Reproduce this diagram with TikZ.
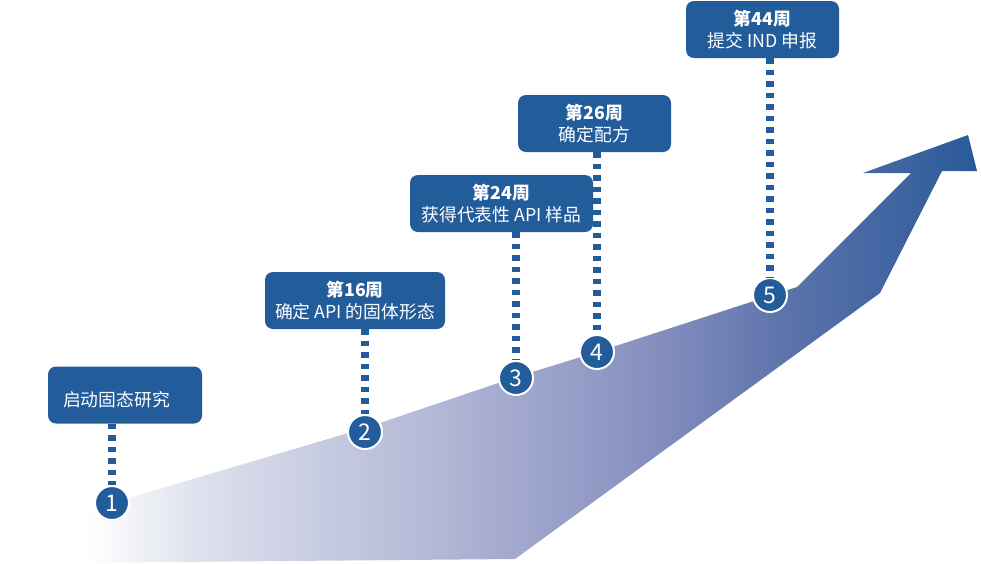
\documentclass[tikz,border=0pt]{standalone}
\usepackage{fontspec}
\setmainfont{Noto Sans CJK SC}
\usepackage{xcolor}

\definecolor{boxblue}{HTML}{225C9B}
\definecolor{fadeA}{HTML}{DCDFED}
\definecolor{fadeB}{HTML}{B1B6D5}
\definecolor{fadeC}{HTML}{8790C0}
\definecolor{fadeD}{HTML}{5A72AA}
\definecolor{fadeE}{HTML}{2A5A9A}
\pgfdeclarehorizontalshading{arrowfade}{100bp}{color(0bp)=(white); color(26.5bp)=(white);
	color(33bp)=(fadeA); color(46bp)=(fadeB); color(57bp)=(fadeC); color(65bp)=(fadeD);
	color(75bp)=(fadeE); color(100bp)=(fadeE)}

\tikzset{
	milestone/.style={fill=boxblue, rounded corners=8pt, text=white, align=center,
		minimum height=57pt, inner sep=0pt, font=\fontsize{17.8}{22}\selectfont},
	stepdot/.style={circle, fill=boxblue, draw=white, line width=2pt, minimum size=34pt,
		inner sep=0pt, text=white, font=\fontsize{23}{23}\selectfont},
	stem/.style={draw=boxblue, line width=7.5pt, dash pattern=on 5.5pt off 6pt}
}

\begin{document}
\begin{tikzpicture}[x=1pt, y=-1pt]
	\useasboundingbox (0,0) rectangle (981,563);
	% rising arrow
	\shade[shading=arrowfade]
		(60,519) -- (112,503) -- (365,428) -- (516,377) -- (597,352) -- (797,287)
		-- (911,173) -- (863,173) -- (968,135) -- (977,171) -- (942,171)
		-- (880,293) -- (515,559) -- (60,563) -- cycle;
	% milestone boxes
	\node[milestone, minimum width=154pt, align=left, text width=124pt, inner xsep=15pt] (box1) at (125,395)
		{\raisebox{-5pt}[\height][\depth]{启动固态研究}};
	\node[milestone, minimum width=180pt] (box2) at (355,300.5) {\textbf{第16周}\\确定 API 的固体形态};
	\node[milestone, minimum width=183pt] (box3) at (501.5,203.5) {\textbf{第24周}\\获得代表性 API 样品};
	\node[milestone, minimum width=153pt] (box4) at (594.5,123.5) {\textbf{第26周}\\确定配方};
	\node[milestone, minimum width=153pt] (box5) at (762.5,29.5) {\textbf{第44周}\\提交 IND 申报};
	% numbered steps
	\node[stepdot] (c1) at (112,503) {1};
	\node[stepdot] (c2) at (365,432) {2};
	\node[stepdot] (c3) at (516,378) {3};
	\node[stepdot] (c4) at (597,352) {4};
	\node[stepdot] (c5) at (770,295) {5};
	% dotted stems
	\foreach \i in {1,...,5}
		\draw[stem] (box\i.south -| c\i) -- (c\i.north);
\end{tikzpicture}
\end{document}
